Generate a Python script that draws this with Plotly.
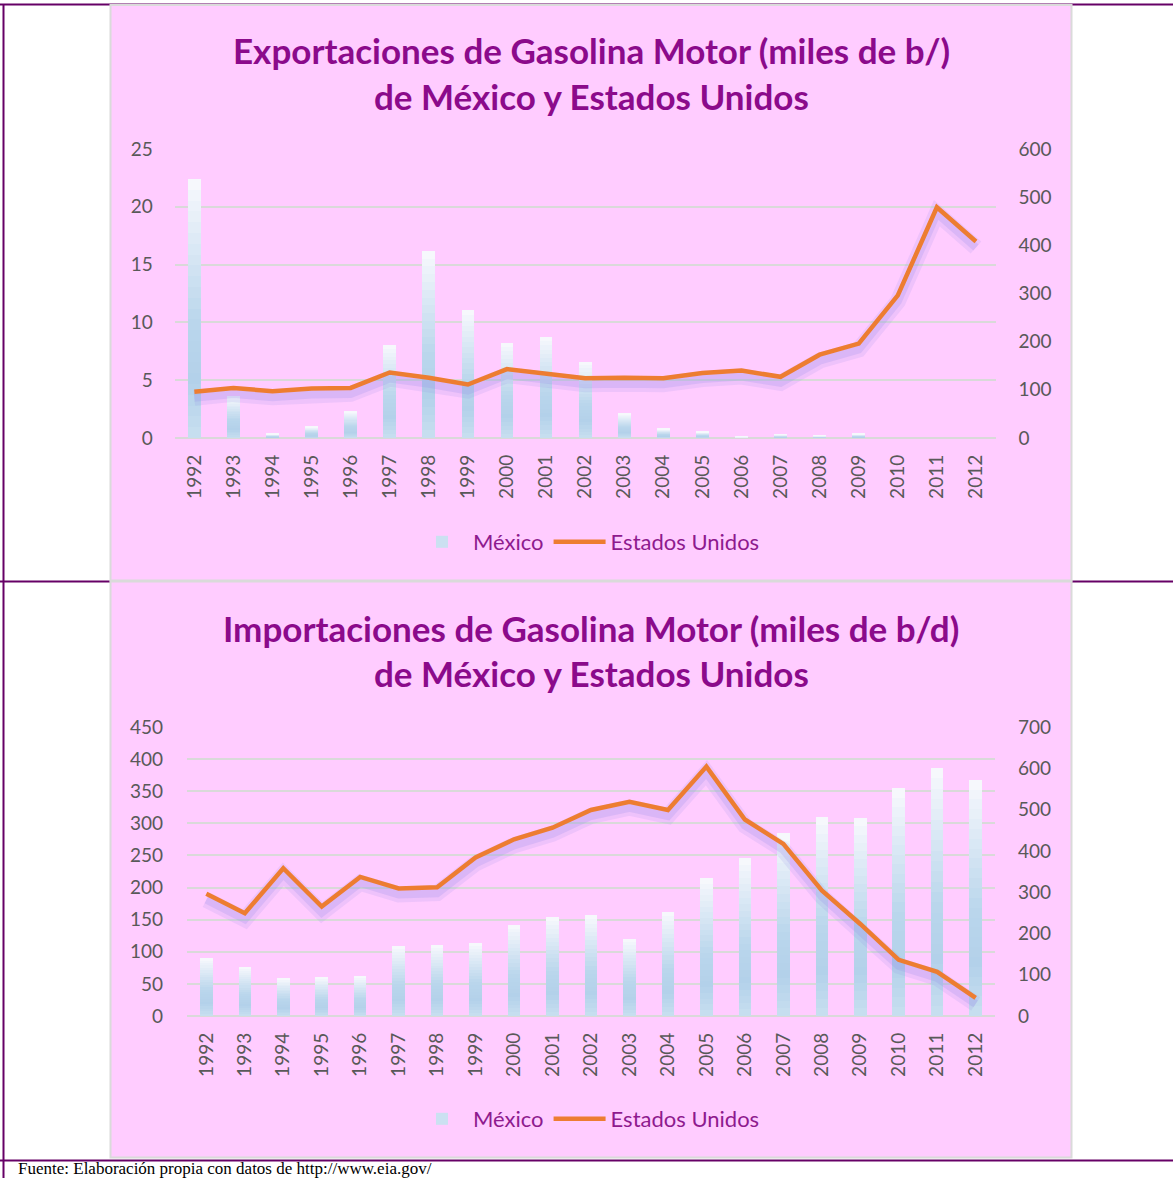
import plotly.graph_objects as go

# ---------------- data ----------------
years = [str(y) for y in range(1992, 2013)]

exp_mexico = [22.4, 3.6, 0.35, 0.98, 2.34, 8.05, 16.2, 11.07, 8.2, 8.74, 6.57,
              2.08, 0.78, 0.52, 0.1, 0.3, 0.2, 0.35, 0, 0, 0]
exp_usa = [96, 104, 97, 103, 104, 136, 125, 111, 143, 133, 124,
           125, 124, 135, 140, 127, 173, 196, 296, 479, 408]

imp_mexico = [90, 76, 59, 61, 62, 109, 111, 114, 142, 154, 157,
              120, 162, 215, 246, 285, 310, 308, 355, 386, 368]
imp_usa = [296, 249, 358, 265, 337, 309, 312, 384, 428, 456, 499,
           519, 499, 604, 476, 417, 304, 223, 136, 107, 44]

title1 = ["Exportaciones de Gasolina Motor (miles de b/)", "de México y Estados Unidos"]
title2 = ["Importaciones de Gasolina Motor (miles de b/d)", "de México y Estados Unidos"]
source_note = "Fuente: Elaboración propia con datos de http://www.eia.gov/"

# ---------------- style ----------------
W, H = 1173, 1178
PINK = "#FFCCFF"
PURPLE_LINE = "#660066"
TITLE_COLOR = "#8B0A8B"
LEGEND_COLOR = "#8E1A8E"
TICK_COLOR = "#595959"
GRID = "#D9D9D9"
ORANGE = "#ED7D31"
FONT = "Lato"

# vertical gradient for the bars (fraction of bar height from bottom -> rgb)
grad_stops = [(0.0, (200, 223, 240)), (0.22, (179, 209, 234)),
              (0.45, (186, 214, 236)), (1.0, (248, 249, 253))]
N_SEG = 24


def grad_color(t):
    for (t0, c0), (t1, c1) in zip(grad_stops[:-1], grad_stops[1:]):
        if t0 <= t <= t1:
            f = (t - t0) / (t1 - t0)
            return "rgb(%d,%d,%d)" % tuple(round(a + (b - a) * f) for a, b in zip(c0, c1))
    return "rgb(%d,%d,%d)" % grad_stops[-1][1]


seg_colors = [grad_color((k + 0.5) / N_SEG) for k in range(N_SEG)]
LEGEND_SEG = int(N_SEG * 0.6)


def px(x):
    return x / W


def py(y):
    return 1 - y / H


fig = go.Figure()


def add_chart(xa, yl, ysh, yr, mex, usa, legend):
    for k, c in enumerate(seg_colors):
        fig.add_trace(go.Bar(
            x=years, y=[v / N_SEG for v in mex], xaxis=xa, yaxis=yl,
            marker=dict(color=c, line=dict(width=0)),
            name="México", showlegend=(k == LEGEND_SEG), legend=legend,
            hoverinfo="skip"))
    # soft shadow beneath the line
    fig.add_trace(go.Scatter(x=years, y=usa, xaxis=xa, yaxis=ysh, mode="lines",
                             line=dict(color="rgba(150,140,230,0.16)", width=16),
                             showlegend=False, hoverinfo="skip"))
    fig.add_trace(go.Scatter(x=years, y=usa, xaxis=xa, yaxis=ysh, mode="lines",
                             line=dict(color="rgba(150,140,230,0.22)", width=8),
                             showlegend=False, hoverinfo="skip"))
    fig.add_trace(go.Scatter(x=years, y=usa, xaxis=xa, yaxis=yr, mode="lines",
                             line=dict(color=ORANGE, width=4.5),
                             name="Estados Unidos", legend=legend))


add_chart("x", "y", "y2", "y3", exp_mexico, exp_usa, "legend")
add_chart("x2", "y4", "y5", "y6", imp_mexico, imp_usa, "legend2")

tickfont = dict(family=FONT, size=19, color=TICK_COLOR)

xcommon = dict(type="category", tickangle=-90, tickfont=tickfont, showgrid=False,
               showline=False, ticks="", ticklabelstandoff=12, fixedrange=True,
               automargin=False)
ycommon = dict(tickfont=tickfont, showline=False, ticks="", fixedrange=True,
               automargin=False)

c1 = dict(x0=174.8, x1=995.5, y0=149, y1=438)
c2 = dict(x0=187.1, x1=994.9, y0=727, y1=1016)

sh1 = 6 * 600 / (c1["y1"] - c1["y0"])
sh2 = 6 * 700 / (c2["y1"] - c2["y0"])

legend_common = dict(orientation="h", xanchor="center", yanchor="middle",
                     bgcolor="rgba(0,0,0,0)", traceorder="normal", itemwidth=52,
                     font=dict(family=FONT, size=22, color=LEGEND_COLOR))

fig.update_layout(
    width=W, height=H,
    margin=dict(l=0, r=0, t=0, b=0, pad=0, autoexpand=False),
    paper_bgcolor="white", plot_bgcolor="rgba(0,0,0,0)",
    barmode="stack", bargap=0.675,
    font=dict(family=FONT),
    xaxis=dict(domain=[px(c1["x0"]), px(c1["x1"])], anchor="y", **xcommon),
    yaxis=dict(domain=[py(c1["y1"]), py(c1["y0"])], anchor="x", range=[0, 25],
               dtick=5, gridcolor=GRID, gridwidth=1.5, zeroline=True,
               zerolinecolor=GRID, zerolinewidth=1.5, ticklabelstandoff=21, **ycommon),
    yaxis2=dict(overlaying="y", anchor="x", range=[sh1, 600 + sh1], visible=False,
                fixedrange=True),
    yaxis3=dict(overlaying="y", anchor="x", side="right", range=[0, 600], dtick=100,
                showgrid=False, zeroline=False, ticklabelstandoff=22, **ycommon),
    xaxis2=dict(domain=[px(c2["x0"]), px(c2["x1"])], anchor="y4", **xcommon),
    yaxis4=dict(domain=[py(c2["y1"]), py(c2["y0"])], anchor="x2", range=[0, 450],
                dtick=50, gridcolor=GRID, gridwidth=1.5, zeroline=True,
                zerolinecolor=GRID, zerolinewidth=1.5, ticklabelstandoff=23, **ycommon),
    yaxis5=dict(overlaying="y4", anchor="x2", range=[sh2, 700 + sh2], visible=False,
                fixedrange=True),
    yaxis6=dict(overlaying="y4", anchor="x2", side="right", range=[0, 700], dtick=100,
                showgrid=False, zeroline=False, ticklabelstandoff=22, **ycommon),
    legend=dict(x=px(588), y=py(542), **legend_common),
    legend2=dict(x=px(588), y=py(1119), **legend_common),
    showlegend=True,
)

# ---------------- page frame & panels ----------------
shapes = []
line_style = dict(color=PURPLE_LINE, width=2)
for yy in (4.5, 581.5, 1160.5):
    shapes.append(dict(type="line", xref="paper", yref="paper", x0=0, x1=1,
                       y0=py(yy), y1=py(yy), line=line_style, layer="below"))
shapes.append(dict(type="line", xref="paper", yref="paper", x0=px(3.5), x1=px(3.5),
                   y0=py(4.5), y1=0, line=line_style, layer="below"))
for (t, b) in ((5, 580.5), (581.5, 1157.5)):
    shapes.append(dict(type="rect", xref="paper", yref="paper", x0=px(110.5),
                       x1=px(1071.5), y0=py(b), y1=py(t), fillcolor=PINK,
                       line=dict(color="#DADADA", width=2), layer="below"))
fig.update_layout(shapes=shapes)

# ---------------- titles & note ----------------
anns = []
for text, yc in ((title1[0], 50), (title1[1], 96), (title2[0], 628), (title2[1], 673)):
    anns.append(dict(text=f"<b>{text}</b>", xref="paper", yref="paper", x=px(591),
                     y=py(yc), xanchor="center", yanchor="middle", showarrow=False,
                     font=dict(family=FONT, size=35, color=TITLE_COLOR)))
anns.append(dict(text=source_note, xref="paper", yref="paper", x=px(17), y=py(1178.5),
                 xanchor="left", yanchor="bottom", showarrow=False, borderpad=0,
                 font=dict(family="Liberation Serif", size=17, color="black")))
fig.update_layout(annotations=anns)

fig.write_html("out.html", config={"displayModeBar": False},
               post_script="document.body.style.margin='0';document.body.style.overflow='hidden';")
